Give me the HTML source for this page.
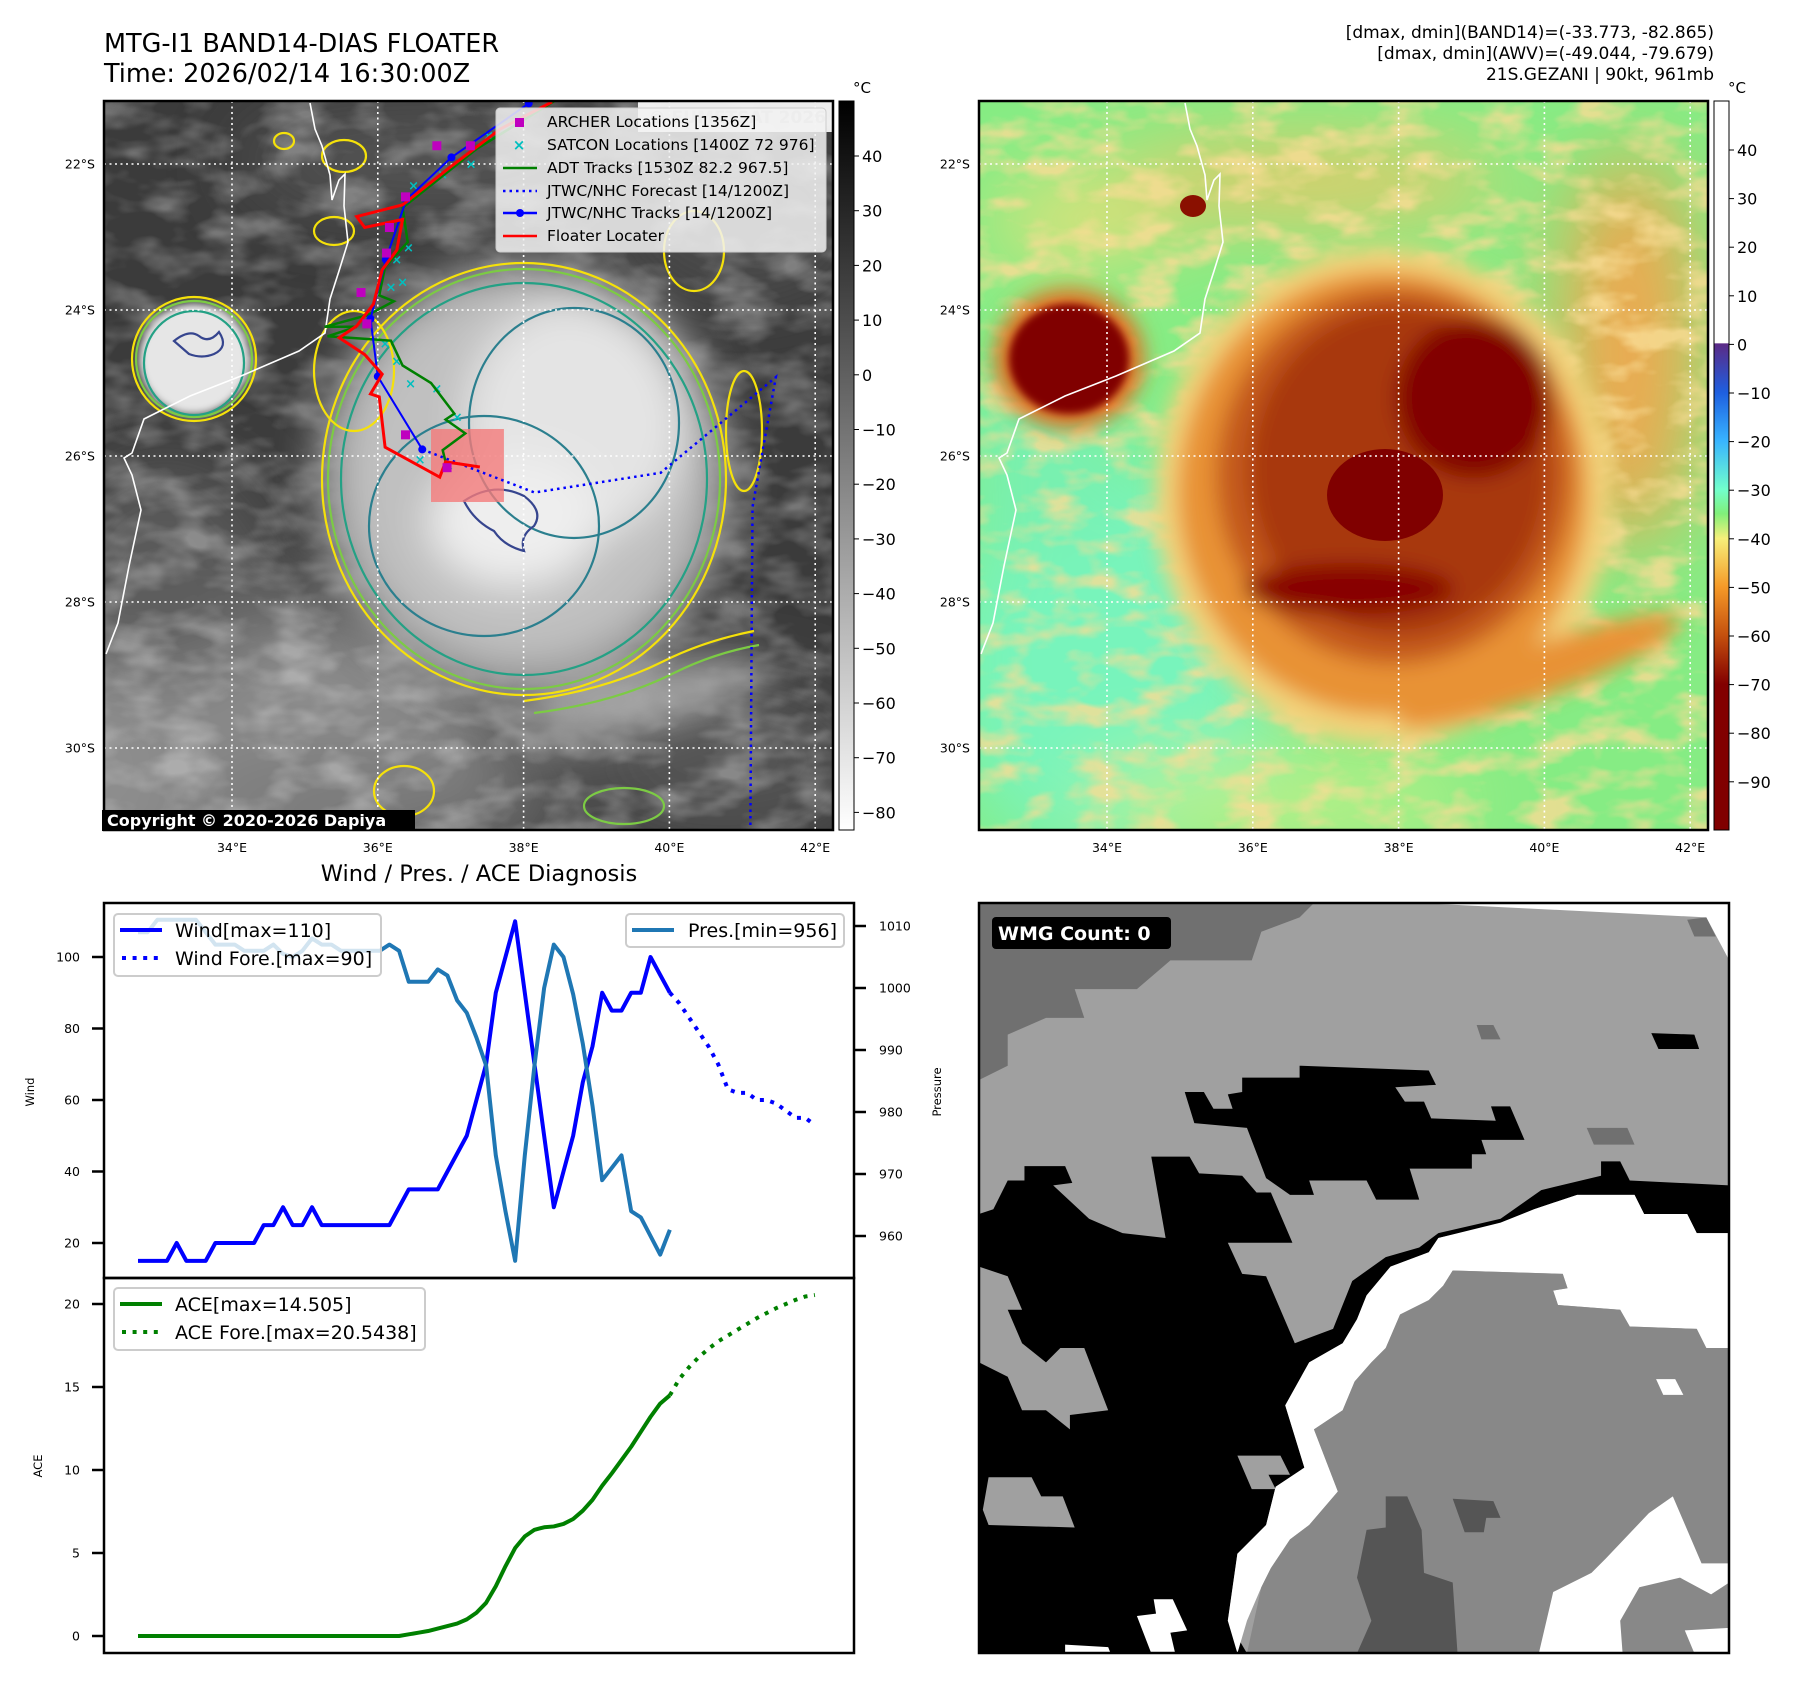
<!DOCTYPE html>
<html>
<head>
<meta charset="utf-8">
<style>
html,body{margin:0;padding:0;background:#fff;}
svg{display:block;font-family:"DejaVu Sans","Liberation Sans",sans-serif;}
</style>
</head>
<body>
<svg id="s" xmlns="http://www.w3.org/2000/svg" width="1797" height="1690" viewBox="0 0 1797 1690">
<defs>
  <clipPath id="mapclip"><rect x="0" y="0" width="729" height="729"/></clipPath>
  <clipPath id="leftclip"><rect x="104" y="101" width="729" height="729"/></clipPath>
  <clipPath id="chartclip1"><rect x="104" y="903" width="750" height="375"/></clipPath>
  <clipPath id="chartclip2"><rect x="104" y="1278" width="750" height="375"/></clipPath>
  <filter id="b40" x="-50%" y="-50%" width="200%" height="200%"><feGaussianBlur stdDeviation="40"/></filter>
  <filter id="b20" x="-50%" y="-50%" width="200%" height="200%"><feGaussianBlur stdDeviation="20"/></filter>
  <filter id="b10" x="-50%" y="-50%" width="200%" height="200%"><feGaussianBlur stdDeviation="10"/></filter>
  <filter id="b4" x="-50%" y="-50%" width="200%" height="200%"><feGaussianBlur stdDeviation="4"/></filter>
  <filter id="tex" x="0" y="0" width="100%" height="100%">
    <feTurbulence type="fractalNoise" baseFrequency="0.018 0.035" numOctaves="3" seed="4"/>
    <feColorMatrix type="matrix" values="0 0 0 0 1  0 0 0 0 1  0 0 0 0 1  2.5 0 0 0 -1.0"/>
  </filter>
  <filter id="texo" x="0" y="0" width="100%" height="100%">
    <feTurbulence type="fractalNoise" baseFrequency="0.02 0.04" numOctaves="3" seed="9"/>
    <feColorMatrix type="matrix" values="0 0 0 0 0.95  0 0 0 0 0.72  0 0 0 0 0.3  3 0 0 0 -1.3"/>
  </filter>
  <linearGradient id="graybar" x1="0" y1="0" x2="0" y2="1">
    <stop offset="0" stop-color="#000"/>
    <stop offset="1" stop-color="#fff"/>
  </linearGradient>
  <linearGradient id="colorbar" x1="0" y1="101" x2="0" y2="830" gradientUnits="userSpaceOnUse">
    <stop offset="0" stop-color="#ffffff"/>
    <stop offset="0.332" stop-color="#ffffff"/>
    <stop offset="0.333" stop-color="#5b2a86"/>
    <stop offset="0.40" stop-color="#1e5fe0"/>
    <stop offset="0.466" stop-color="#38b4ff"/>
    <stop offset="0.533" stop-color="#72ffcc"/>
    <stop offset="0.566" stop-color="#80f07a"/>
    <stop offset="0.60" stop-color="#f6f07a"/>
    <stop offset="0.666" stop-color="#f59a28"/>
    <stop offset="0.733" stop-color="#c4500e"/>
    <stop offset="0.80" stop-color="#820000"/>
    <stop offset="1" stop-color="#800000"/>
  </linearGradient>
</defs>

<!-- Titles -->
<text x="104" y="52" font-size="25.5" fill="#000">MTG-I1 BAND14-DIAS FLOATER</text>
<text x="104" y="82" font-size="25.5" fill="#000">Time: 2026/02/14 16:30:00Z</text>
<text x="1714" y="38" font-size="17" text-anchor="end">[dmax, dmin](BAND14)=(-33.773, -82.865)</text>
<text x="1714" y="59" font-size="17" text-anchor="end">[dmax, dmin](AWV)=(-49.044, -79.679)</text>
<text x="1714" y="80" font-size="17" text-anchor="end">21S.GEZANI | 90kt, 961mb</text>

<!-- LEFT MAP -->
<g id="leftmap" transform="translate(104,101)" clip-path="url(#mapclip)">
  <rect width="729" height="729" fill="#3b3b3b"/>
  <g filter="url(#b40)">
    <ellipse cx="120" cy="650" rx="280" ry="150" fill="#8e8e8e"/>
    <ellipse cx="60" cy="470" rx="110" ry="110" fill="#5c5c5c"/>
    <ellipse cx="330" cy="60" rx="200" ry="50" fill="#575757"/>
    <ellipse cx="260" cy="700" rx="200" ry="60" fill="#7a7a7a"/>
    <ellipse cx="620" cy="660" rx="150" ry="80" fill="#555"/>
    <ellipse cx="640" cy="120" rx="120" ry="80" fill="#4e4e4e"/>
  </g>
  <rect width="729" height="729" filter="url(#tex)" opacity="0.3"/>
  <g filter="url(#b20)">
    <ellipse cx="420" cy="378" rx="210" ry="220" fill="#9a9a9a"/>
    <ellipse cx="420" cy="372" rx="180" ry="190" fill="#c0c0c0"/>
    <ellipse cx="470" cy="320" rx="110" ry="120" fill="#e4e4e4"/>
    <ellipse cx="410" cy="420" rx="85" ry="65" fill="#eeeeee"/>
    <ellipse cx="540" cy="600" rx="130" ry="28" fill="#a8a8a8" transform="rotate(-15 540 600)"/>
  </g>
  <ellipse cx="90" cy="258" rx="55" ry="55" fill="#e6e6e6" filter="url(#b4)"/>
  <!-- contours -->
  <g fill="none" stroke-width="2.2">
    <ellipse cx="90" cy="258" rx="62" ry="62" stroke="#f5e10a"/>
    <ellipse cx="90" cy="258" rx="58" ry="58" stroke="#7ccb44"/>
    <ellipse cx="90" cy="262" rx="50" ry="52" stroke="#24a185"/>
    <path d="M70 240 q15 -12 25 -5 q10 8 20 -4 q10 15 -5 22 q-12 5 -25 0 z" stroke="#36458e"/>
    <ellipse cx="420" cy="378" rx="202" ry="216" stroke="#f5e10a"/>
    <ellipse cx="420" cy="378" rx="196" ry="210" stroke="#7ccb44"/>
    <ellipse cx="420" cy="378" rx="183" ry="196" stroke="#24a185"/>
    <ellipse cx="470" cy="322" rx="105" ry="115" stroke="#2b7f8e"/>
    <ellipse cx="380" cy="425" rx="115" ry="110" stroke="#2b7f8e"/>
    <path d="M360 400 q30 -20 60 -5 q20 15 10 30 q-15 10 -10 25 q-20 -5 -30 -20 q-20 -10 -30 -30 z" stroke="#36458e"/>
    <path d="M420 600 q80 -10 140 -40 q40 -20 90 -30" stroke="#f5e10a"/>
    <path d="M430 612 q80 -10 140 -40 q40 -20 85 -28" stroke="#7ccb44"/>
    <ellipse cx="250" cy="270" rx="40" ry="60" stroke="#f5e10a"/>
    <ellipse cx="230" cy="130" rx="20" ry="14" stroke="#f5e10a"/>
    <ellipse cx="240" cy="55" rx="22" ry="16" stroke="#f5e10a"/>
    <ellipse cx="180" cy="40" rx="10" ry="8" stroke="#f5e10a"/>
    <ellipse cx="590" cy="150" rx="30" ry="40" stroke="#f5e10a"/>
    <ellipse cx="640" cy="330" rx="18" ry="60" stroke="#f5e10a"/>
    <ellipse cx="300" cy="690" rx="30" ry="25" stroke="#f5e10a"/>
    <ellipse cx="520" cy="705" rx="40" ry="18" stroke="#7ccb44"/>
  </g>
  <!-- coastline -->
  <path d="M206 2 L211 28 L218 45 L226 74 L228 99 L235 79 L241 73 L240 105 L244 141 L235 170 L226 198 L221 232 L195 250 L137 275 L86 295 L40 318 L28 352 L20 357 L28 374 L37 409 L25 465 L14 522 L2 553" fill="none" stroke="#fff" stroke-width="1.6"/>
  <!-- EUMETSAT watermark -->
  <rect x="534" y="0" width="195" height="31" fill="#fff" opacity="0.9"/>
  <text x="722" y="22" font-size="17" font-weight="bold" fill="#ccc" text-anchor="end">© EUMETSAT 2026</text>
</g>
<g id="leftgrid" clip-path="url(#leftclip)"></g>
<g id="tracks" clip-path="url(#leftclip)"></g>
<rect x="104" y="101" width="729" height="729" fill="none" stroke="#000" stroke-width="2.5"/>

<!-- map legend -->
<g>
  <rect x="496" y="108" width="330" height="144" rx="4" fill="#f2f2f2" fill-opacity="0.85" stroke="#ccc"/>
  <rect x="515" y="118" width="9" height="9" fill="#bf00bf"/>
  <text x="519" y="150" font-size="15" font-weight="bold" fill="#00bfbf" text-anchor="middle">×</text>
  <line x1="503" y1="168" x2="537" y2="168" stroke="#008000" stroke-width="2.5"/>
  <line x1="503" y1="191" x2="537" y2="191" stroke="#0000ff" stroke-width="2.5" stroke-dasharray="2.5,4"/>
  <line x1="503" y1="213" x2="537" y2="213" stroke="#0000ff" stroke-width="2.5"/>
  <circle cx="520" cy="213" r="4" fill="#0000ff"/>
  <line x1="503" y1="236" x2="537" y2="236" stroke="#ff0000" stroke-width="2.5"/>
  <g font-size="15.5" fill="#000">
    <text x="547" y="127">ARCHER Locations [1356Z]</text>
    <text x="547" y="150">SATCON Locations [1400Z 72 976]</text>
    <text x="547" y="173">ADT Tracks [1530Z 82.2 967.5]</text>
    <text x="547" y="196">JTWC/NHC Forecast [14/1200Z]</text>
    <text x="547" y="218">JTWC/NHC Tracks [14/1200Z]</text>
    <text x="547" y="241">Floater Locater</text>
  </g>
</g>
<g>
  <rect x="102" y="810" width="313" height="21" fill="#000"/>
  <text x="107" y="826" font-size="16" font-weight="bold" fill="#fff">Copyright © 2020-2026 Dapiya</text>
</g>

<!-- left colorbar -->
<rect x="839" y="101" width="15" height="729" fill="url(#graybar)" stroke="#000" stroke-width="1"/>
<text x="853" y="93" font-size="15">°C</text>
<g id="leftcbticks"></g>

<!-- RIGHT MAP -->
<g transform="translate(979,101)" clip-path="url(#mapclip)">
  <rect width="729" height="729" fill="#86ec84"/>
  <g filter="url(#b40)">
    <ellipse cx="130" cy="560" rx="170" ry="210" fill="#78f4bc"/>
    <ellipse cx="60" cy="360" rx="80" ry="100" fill="#78f0b0"/>
    <ellipse cx="650" cy="250" rx="70" ry="200" fill="#eea850"/>
    <ellipse cx="330" cy="80" rx="200" ry="40" fill="#e8c868"/>
    <ellipse cx="100" cy="120" rx="90" ry="40" fill="#e8e07a"/>
    <ellipse cx="300" cy="700" rx="200" ry="40" fill="#bff088"/>
  </g>
  <rect width="729" height="729" filter="url(#texo)" opacity="0.8"/>
  <g filter="url(#b10)">
    <ellipse cx="404" cy="395" rx="228" ry="248" fill="#f2d27a"/>
    <ellipse cx="404" cy="392" rx="205" ry="222" fill="#e89236"/>
    <ellipse cx="415" cy="375" rx="178" ry="188" fill="#c45a1a"/>
    <ellipse cx="420" cy="370" rx="150" ry="165" fill="#a8380c"/>
    <ellipse cx="495" cy="297" rx="78" ry="80" fill="#820000"/>
    <ellipse cx="370" cy="488" rx="105" ry="26" fill="#880400"/>
    <ellipse cx="560" cy="570" rx="150" ry="26" fill="#e89236" transform="rotate(-20 560 570)"/>
    <ellipse cx="90" cy="258" rx="75" ry="70" fill="#e07020"/>
  </g>
  <ellipse cx="406" cy="394" rx="58" ry="46" fill="#800000"/>
  <ellipse cx="90" cy="258" rx="60" ry="55" fill="#800000" filter="url(#b4)"/>
  <ellipse cx="214" cy="105" rx="13" ry="11" fill="#8a1000"/>
  <path d="M206 2 L211 28 L218 45 L226 74 L228 99 L235 79 L241 73 L240 105 L244 141 L235 170 L226 198 L221 232 L195 250 L137 275 L86 295 L40 318 L28 352 L20 357 L28 374 L37 409 L25 465 L14 522 L2 553" fill="none" stroke="#fff" stroke-width="1.6"/>
</g>
<g id="rightgrid"></g>
<rect x="979" y="101" width="729" height="729" fill="none" stroke="#000" stroke-width="2.5"/>
<rect x="1714" y="101" width="15" height="729" fill="url(#colorbar)" stroke="#000" stroke-width="1"/>
<text x="1728" y="93" font-size="15">°C</text>
<g id="rightcbticks"></g>

<!-- BOTTOM CHART -->
<text x="479" y="881" font-size="22.5" text-anchor="middle">Wind / Pres. / ACE Diagnosis</text>
<g id="chart"></g>
<rect x="104" y="903" width="750" height="375" fill="none" stroke="#000" stroke-width="2.5"/>
<rect x="104" y="1278" width="750" height="375" fill="none" stroke="#000" stroke-width="2.5"/>
<text transform="translate(34,1092) rotate(-90)" font-size="11.5" text-anchor="middle">Wind</text>
<text transform="translate(42,1466) rotate(-90)" font-size="11.5" text-anchor="middle">ACE</text>
<text transform="translate(941,1092) rotate(-90)" font-size="11.5" text-anchor="middle">Pressure</text>

<g>
  <rect x="114" y="914" width="267" height="62" rx="4" fill="#fff" fill-opacity="0.8" stroke="#ccc" stroke-width="2"/>
  <line x1="120" y1="930" x2="162" y2="930" stroke="#0000ff" stroke-width="4"/>
  <line x1="122" y1="958" x2="162" y2="958" stroke="#0000ff" stroke-width="4" stroke-dasharray="4,6.6"/>
  <text x="175" y="937" font-size="19">Wind[max=110]</text>
  <text x="175" y="965" font-size="19">Wind Fore.[max=90]</text>
</g>
<g>
  <rect x="626" y="914" width="218" height="33" rx="4" fill="#fff" fill-opacity="0.8" stroke="#ccc" stroke-width="2"/>
  <line x1="632" y1="930" x2="674" y2="930" stroke="#1f77b4" stroke-width="4"/>
  <text x="688" y="937" font-size="19">Pres.[min=956]</text>
</g>
<g>
  <rect x="114" y="1288" width="311" height="62" rx="4" fill="#fff" fill-opacity="0.8" stroke="#ccc" stroke-width="2"/>
  <line x1="120" y1="1304" x2="162" y2="1304" stroke="#008000" stroke-width="4"/>
  <line x1="122" y1="1332" x2="162" y2="1332" stroke="#008000" stroke-width="4" stroke-dasharray="4,6.6"/>
  <text x="175" y="1311" font-size="19">ACE[max=14.505]</text>
  <text x="175" y="1339" font-size="19">ACE Fore.[max=20.5438]</text>
</g>

<!-- WMG PANEL -->
<g transform="translate(979,903)">
  <rect width="750" height="750" fill="#a0a0a0"/>
  <g transform="scale(0.4785)">
    <polygon points="0,0 700,0 670,30 590,60 570,120 400,120 330,180 200,180 220,240 140,240 60,275 60,340 0,370" fill="#707070"/>
    <polygon points="920,0 1568,0 1568,120 1520,30" fill="#fff"/>
    <polygon points="1480,35 1520,30 1540,70 1495,70" fill="#707070"/>
    <polygon points="1040,255 1075,255 1090,285 1050,285" fill="#707070"/>
    <polygon points="1270,470 1355,470 1370,505 1285,505" fill="#707070"/>
    <polygon points="1405,272 1495,275 1505,305 1420,305" fill="#000"/>
    <polygon points="430,395 470,395 490,430 530,430 520,400 550,395 550,365 670,365 670,340 940,350 955,380 870,385 890,415 930,415 945,450 1080,455 1070,425 1110,425 1140,495 1050,495 1060,525 1030,525 1030,555 900,555 920,620 830,620 810,580 690,580 700,610 650,610 600,575 560,470 450,460" fill="#000"/>
    <polygon points="0,650 30,640 60,580 95,580 95,550 180,550 195,585 155,590 230,660 300,690 390,700 360,530 440,530 460,565 550,570 580,605 610,605 655,710 520,710 550,775 600,780 660,920 740,890 780,790 850,740 920,720 960,690 1090,660 1175,600 1300,570 1300,540 1340,540 1360,580 1568,590 1568,690 1500,690 1480,650 1390,650 1370,610 1250,610 1160,640 1090,670 960,700 940,730 860,760 810,820 790,870 760,920 690,960 640,1050 680,1180 620,1220 600,1300 540,1360 520,1500 560,1568 0,1568 0,960 60,990 90,1060 140,1060 190,1100 190,1070 270,1060 220,930 170,930 140,960 90,920 60,850 90,850 60,780 0,760" fill="#000"/>
    <polygon points="20,1200 110,1200 130,1240 175,1240 200,1305 20,1300 8,1268" fill="#a0a0a0"/>
    <polygon points="540,1155 630,1155 650,1195 605,1195 620,1225 570,1225" fill="#a0a0a0"/>
    <polygon points="960,700 1090,668 1160,640 1250,610 1370,610 1390,650 1480,650 1500,690 1568,690 1568,930 1520,930 1500,890 1360,885 1340,850 1210,840 1200,810 1230,805 1220,775 990,768 970,800 940,830 880,860 850,930 820,960 785,1000 760,1060 700,1100 750,1230 690,1300 650,1330 610,1390 590,1430 560,1500 540,1568 520,1500 540,1360 600,1300 620,1220 680,1180 640,1050 690,960 760,920 790,870 810,820 860,760 940,730" fill="#fff"/>
    <polygon points="990,768 1220,775 1230,805 1200,810 1210,840 1340,850 1360,885 1500,890 1520,930 1568,930 1568,1568 560,1568 590,1430 610,1390 650,1330 690,1300 750,1230 700,1100 760,1060 785,1000 820,960 850,930 880,860 940,830 970,800" fill="#888"/>
    <polygon points="1415,995 1455,995 1472,1028 1430,1028" fill="#fff"/>
    <polygon points="1170,1568 1200,1440 1280,1400 1310,1370 1400,1275 1450,1240 1510,1380 1568,1380 1568,1420 1530,1445 1465,1410 1380,1430 1340,1500 1345,1568" fill="#fff"/>
    <polygon points="1475,1520 1568,1515 1568,1568 1495,1568" fill="#fff"/>
    <polygon points="810,1310 850,1305 850,1240 895,1240 925,1310 930,1400 990,1420 1000,1568 790,1568 820,1500 790,1410" fill="#555"/>
    <polygon points="990,1245 1075,1250 1090,1285 1060,1285 1055,1315 1015,1315" fill="#555"/>
    <polygon points="330,1490 370,1485 365,1455 405,1455 435,1520 400,1525 410,1568 360,1568" fill="#fff"/>
    <polygon points="180,1550 270,1555 275,1568 180,1568" fill="#fff"/>
  </g>
  <rect x="13" y="14" width="179" height="32" rx="4" fill="#000"/>
  <text x="19" y="37" font-size="19" font-weight="bold" fill="#fff">WMG Count: 0</text>
  <rect width="750" height="750" fill="none" stroke="#000" stroke-width="2.5"/>
</g>

<script>
// ---------- Chart data ----------
const windObs = [15,15,15,15,20,15,15,15,20,20,20,20,20,25,25,30,25,25,30,25,25,25,25,25,25,25,25,30,35,35,35,35,40,45,50,60,70,90,100,110,90,70,50,30,40,50,65,75,90,85,85,90,90,100,95,90];
const windFc = [90,87,83,79,75,70,63,62,62,60,60,59,57,55,55,53];
const presObs = [1009,1009,1011,1011,1011,1011,1011,1009,1007,1007,1007,1006,1006,1006,1007,1005.5,1005,1006,1008,1007,1007,1006,1006,1006,1006,1006,1007,1006,1001,1001,1001,1003,1002,998,996,992,987.5,973,964,956,973,987.5,1000,1007,1005,999,991,981,969,971,973,964,963,960,957,961];
const aceObs = [0,0,0,0,0,0,0,0,0,0,0,0,0,0,0,0,0,0,0,0,0,0,0,0,0,0,0,0,0.1,0.2,0.3,0.45,0.6,0.75,1.0,1.4,2.0,3.0,4.2,5.3,6.0,6.4,6.55,6.6,6.75,7.05,7.55,8.2,9.05,9.8,10.6,11.4,12.3,13.2,14.0,14.5];
const aceFc = [14.5,15.5,16.2,16.8,17.3,17.75,18.1,18.45,18.8,19.15,19.45,19.75,20.0,20.25,20.45,20.54];
const windTicks = [20,40,60,80,100];
const presTicks = [960,970,980,990,1000,1010];
const aceTicks = [0,5,10,15,20];

// ---------- Map data (lon E, lat S) ----------
const jtwcLon = [38.07,37.01,36.39,36.11,35.90,36.00,36.61];
const jtwcLat = [21.17,21.91,22.49,23.31,24.12,24.91,25.91];
const fcLon = [36.61,38.15,39.88,41.46,41.14,41.11];
const fcLat = [25.91,26.50,26.23,24.92,26.70,31.14];
const floaterLon = [38.39,37.68,36.97,36.34,35.71,35.82,36.34,36.26,36.06,35.94,35.71,35.47,35.82,36.06,35.90,36.02,36.10,36.85,36.93,37.40];
const floaterLat = [21.15,21.52,22.06,22.56,22.72,22.87,22.76,23.18,23.45,23.92,24.22,24.38,24.61,24.88,25.15,25.19,25.88,26.29,26.08,26.15];
const adtLon = [38.42,37.36,36.34,36.41,36.10,36.02,36.22,35.86,35.27,35.71,35.31,36.18,36.34,36.73,37.05,36.93,37.20,36.89,36.93];
const adtLat = [21.14,21.79,22.60,23.07,23.41,23.80,23.88,24.07,24.23,24.23,24.36,24.42,24.76,25.00,25.42,25.50,25.69,25.92,26.08];
const archerLon = [36.81,37.27,36.38,36.16,36.12,35.77,35.85,36.38,36.95];
const archerLat = [21.75,21.75,22.45,22.87,23.22,23.76,24.19,25.71,26.16];
const satconLon = [37.52,37.28,36.89,36.49,36.42,36.26,36.34,36.18,36.10,36.26,36.45,36.81,37.09,36.97,36.58];
const satconLat = [21.60,21.99,22.14,22.29,23.14,23.30,23.61,23.68,24.45,24.69,25.00,25.07,25.46,26.12,26.04];
const floaterBoxLon = [36.73,37.73];
const floaterBoxLat = [25.63,26.63];
const lonTicks = [34,36,38,40,42];
const latTicks = [22,24,26,28,30];
const grayCbTicks = [40,30,20,10,0,-10,-20,-30,-40,-50,-60,-70,-80];
const colorCbTicks = [40,30,20,10,0,-10,-20,-30,-40,-50,-60,-70,-80,-90];

const NS = 'http://www.w3.org/2000/svg';
function mk(tag, attrs, parent){
  const e = document.createElementNS(NS, tag);
  for (const k in attrs) e.setAttribute(k, attrs[k]);
  parent.appendChild(e);
  return e;
}
function fmt(v){ return (v<0?'\u2212':'') + Math.abs(v); }

// Map axes
function mx(lon, off){ return 232 + (lon-34)*72.9 + (off||0); }
function my(lat){ return 164 + (lat-22)*73; }

const leftGrid = document.getElementById('leftgrid');
const rightGrid = document.getElementById('rightgrid');
const svg = document.getElementById('s');
[[leftGrid,0],[rightGrid,875]].forEach(function(pair){
  const g = pair[0], off = pair[1];
  lonTicks.forEach(function(lon){
    const l = mk('line',{x1:mx(lon,off),y1:101,x2:mx(lon,off),y2:830,stroke:'#fff','stroke-width':1.6,'stroke-dasharray':'2,3.5'},g);
    
    
    const t = mk('text',{x:mx(lon,off),y:852,'font-size':12.5,'text-anchor':'middle'},svg);
    t.textContent = lon+'°E';
    
    
  });
  latTicks.forEach(function(lat){
    const l = mk('line',{x1:104+off,y1:my(lat),x2:833+off,y2:my(lat),stroke:'#fff','stroke-width':1.6,'stroke-dasharray':'2,3.5'},g);
    
    
    const t = mk('text',{x:95+off,y:my(lat)+4.5,'font-size':12.5,'text-anchor':'end'},svg);
    t.textContent = lat+'°S';
    
    
  });
});

// Colorbar ticks
const lcb = document.getElementById('leftcbticks');
grayCbTicks.forEach(function(v){
  const y = 156 + (40-v)*5.47;
  mk('line',{x1:854,y1:y,x2:859,y2:y,stroke:'#000','stroke-width':1},lcb);
  const t = mk('text',{x:862,y:y+6,'font-size':16},lcb);
  t.textContent = fmt(v);
  
  
});
const rcb = document.getElementById('rightcbticks');
colorCbTicks.forEach(function(v){
  const y = 150 + (40-v)*4.86;
  mk('line',{x1:1729,y1:y,x2:1734,y2:y,stroke:'#000','stroke-width':1},rcb);
  const t = mk('text',{x:1737,y:y+6,'font-size':16},rcb);
  t.textContent = fmt(v);
  
  
});

// Tracks
const tr = document.getElementById('tracks');
function pts(lons, lats){ return lons.map(function(lo,i){ return mx(lo)+','+my(lats[i]); }).join(' '); }
const box = mk('rect',{x:mx(floaterBoxLon[0]),y:my(floaterBoxLat[0]),width:mx(floaterBoxLon[1])-mx(floaterBoxLon[0]),height:my(floaterBoxLat[1])-my(floaterBoxLat[0]),fill:'#f47a7a','fill-opacity':0.8},tr);


satconLon.forEach(function(lo,i){
  const t = mk('text',{x:mx(lo),y:my(satconLat[i])+5,'font-size':13,'font-weight':'bold',fill:'#00bfbf','text-anchor':'middle'},tr);
  t.textContent = '×';
  
  
});
const adt = mk('polyline',{points:pts(adtLon,adtLat),fill:'none',stroke:'#008000','stroke-width':2.5},tr);


const fc = mk('polyline',{points:pts(fcLon,fcLat),fill:'none',stroke:'#0000ff','stroke-width':2.5,'stroke-dasharray':'2.5,4'},tr);


const jt = mk('polyline',{points:pts(jtwcLon,jtwcLat),fill:'none',stroke:'#0000ff','stroke-width':2},tr);


jtwcLon.forEach(function(lo,i){
  const c = mk('circle',{cx:mx(lo),cy:my(jtwcLat[i]),r:4,fill:'#0000ff'},tr);
  
  
});
const fl = mk('polyline',{points:pts(floaterLon,floaterLat),fill:'none',stroke:'#ff0000','stroke-width':3},tr);


archerLon.forEach(function(lo,i){
  const r = mk('rect',{x:mx(lo)-4.5,y:my(archerLat[i])-4.5,width:9,height:9,fill:'#bf00bf'},tr);
  
  
});

// Bottom chart axes
const chart = document.getElementById('chart');
function cx(i){ return 138 + i*9.67; }
function wy(v){ return 1243 - (v-20)*3.575; }
function py(p){ return 926 - (p-1010)*6.2; }
function ay(a){ return 1636 - a*16.6; }
function line(vals, start, xf, yf, color, dash, name, clip){
  const p = vals.map(function(v,k){ return xf(start+k)+','+yf(v); }).join(' ');
  const a = {points:p,fill:'none',stroke:color,'stroke-width':4,'stroke-linejoin':'round'};
  if (dash) a['stroke-dasharray'] = dash;
  a['clip-path'] = clip;
  const e = mk('polyline',a,chart);
  
  
}
windTicks.forEach(function(v){
  mk('line',{x1:92,y1:wy(v),x2:104,y2:wy(v),stroke:'#000','stroke-width':2.5},chart);
  const t = mk('text',{x:80,y:wy(v)+4.5,'font-size':12.5,'text-anchor':'end'},chart);
  t.textContent = v;
  
  
});
presTicks.forEach(function(v){
  mk('line',{x1:854,y1:py(v),x2:866,y2:py(v),stroke:'#000','stroke-width':2.5},chart);
  const t = mk('text',{x:879,y:py(v)+4.5,'font-size':12.5},chart);
  t.textContent = v;
  
  
});
aceTicks.forEach(function(v){
  mk('line',{x1:92,y1:ay(v),x2:104,y2:ay(v),stroke:'#000','stroke-width':2.5},chart);
  const t = mk('text',{x:80,y:ay(v)+4.5,'font-size':12.5,'text-anchor':'end'},chart);
  t.textContent = v;
  
  
});
line(windObs, 0, cx, wy, '#0000ff', null, 'wind-line', 'url(#chartclip1)');
line(windFc, windObs.length-1, cx, wy, '#0000ff', '4,6.6', 'wind-forecast-line', 'url(#chartclip1)');
line(presObs, 0, cx, py, '#1f77b4', null, 'pressure-line', 'url(#chartclip1)');
line(aceObs, 0, cx, ay, '#008000', null, 'ace-line', 'url(#chartclip2)');
line(aceFc, aceObs.length-1, cx, ay, '#008000', '4,6.6', 'ace-forecast-line', 'url(#chartclip2)');
</script>
</svg>
</body>
</html>
